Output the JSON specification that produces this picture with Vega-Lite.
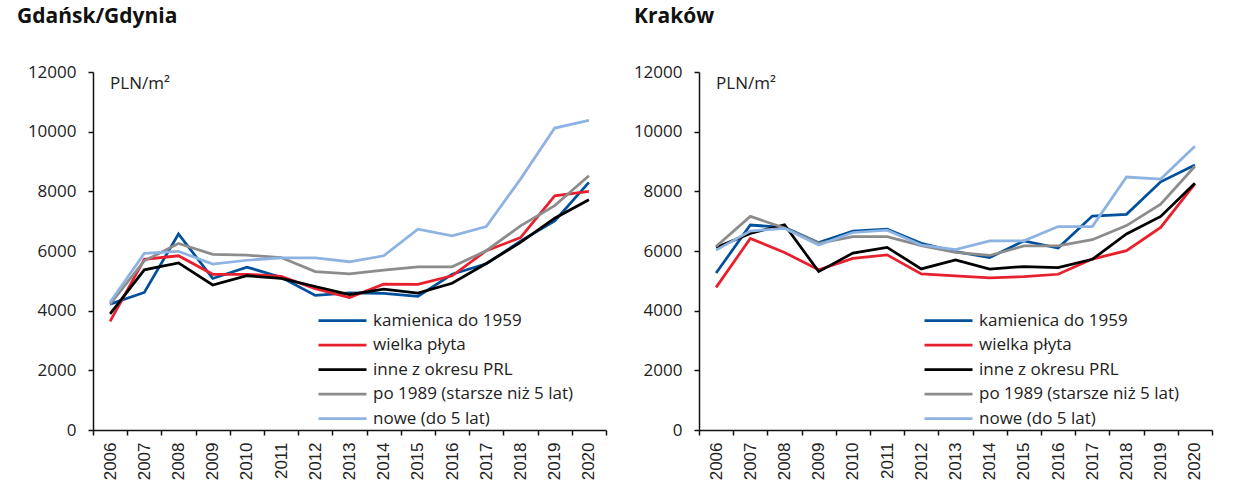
{
  "$schema": "https://vega.github.io/schema/vega-lite/v6.json",
  "background": "white",
  "padding": {"left": 17, "top": 6, "right": 5, "bottom": 5},
  "spacing": 26,
  "datasets": {
    "prices": [
      {"city":"Gdańsk/Gdynia","type":"kamienica do 1959","year":"2006","value":4220},
      {"city":"Gdańsk/Gdynia","type":"kamienica do 1959","year":"2007","value":4610},
      {"city":"Gdańsk/Gdynia","type":"kamienica do 1959","year":"2008","value":6570},
      {"city":"Gdańsk/Gdynia","type":"kamienica do 1959","year":"2009","value":5080},
      {"city":"Gdańsk/Gdynia","type":"kamienica do 1959","year":"2010","value":5460},
      {"city":"Gdańsk/Gdynia","type":"kamienica do 1959","year":"2011","value":5120},
      {"city":"Gdańsk/Gdynia","type":"kamienica do 1959","year":"2012","value":4510},
      {"city":"Gdańsk/Gdynia","type":"kamienica do 1959","year":"2013","value":4600},
      {"city":"Gdańsk/Gdynia","type":"kamienica do 1959","year":"2014","value":4580},
      {"city":"Gdańsk/Gdynia","type":"kamienica do 1959","year":"2015","value":4480},
      {"city":"Gdańsk/Gdynia","type":"kamienica do 1959","year":"2016","value":5220},
      {"city":"Gdańsk/Gdynia","type":"kamienica do 1959","year":"2017","value":5570},
      {"city":"Gdańsk/Gdynia","type":"kamienica do 1959","year":"2018","value":6330},
      {"city":"Gdańsk/Gdynia","type":"kamienica do 1959","year":"2019","value":7010},
      {"city":"Gdańsk/Gdynia","type":"kamienica do 1959","year":"2020","value":8300},
      {"city":"Gdańsk/Gdynia","type":"wielka płyta","year":"2006","value":3640},
      {"city":"Gdańsk/Gdynia","type":"wielka płyta","year":"2007","value":5720},
      {"city":"Gdańsk/Gdynia","type":"wielka płyta","year":"2008","value":5840},
      {"city":"Gdańsk/Gdynia","type":"wielka płyta","year":"2009","value":5220},
      {"city":"Gdańsk/Gdynia","type":"wielka płyta","year":"2010","value":5220},
      {"city":"Gdańsk/Gdynia","type":"wielka płyta","year":"2011","value":5150},
      {"city":"Gdańsk/Gdynia","type":"wielka płyta","year":"2012","value":4740},
      {"city":"Gdańsk/Gdynia","type":"wielka płyta","year":"2013","value":4440},
      {"city":"Gdańsk/Gdynia","type":"wielka płyta","year":"2014","value":4890},
      {"city":"Gdańsk/Gdynia","type":"wielka płyta","year":"2015","value":4880},
      {"city":"Gdańsk/Gdynia","type":"wielka płyta","year":"2016","value":5170},
      {"city":"Gdańsk/Gdynia","type":"wielka płyta","year":"2017","value":6010},
      {"city":"Gdańsk/Gdynia","type":"wielka płyta","year":"2018","value":6450},
      {"city":"Gdańsk/Gdynia","type":"wielka płyta","year":"2019","value":7850},
      {"city":"Gdańsk/Gdynia","type":"wielka płyta","year":"2020","value":8000},
      {"city":"Gdańsk/Gdynia","type":"inne z okresu PRL","year":"2006","value":3890},
      {"city":"Gdańsk/Gdynia","type":"inne z okresu PRL","year":"2007","value":5370},
      {"city":"Gdańsk/Gdynia","type":"inne z okresu PRL","year":"2008","value":5600},
      {"city":"Gdańsk/Gdynia","type":"inne z okresu PRL","year":"2009","value":4860},
      {"city":"Gdańsk/Gdynia","type":"inne z okresu PRL","year":"2010","value":5170},
      {"city":"Gdańsk/Gdynia","type":"inne z okresu PRL","year":"2011","value":5080},
      {"city":"Gdańsk/Gdynia","type":"inne z okresu PRL","year":"2012","value":4810},
      {"city":"Gdańsk/Gdynia","type":"inne z okresu PRL","year":"2013","value":4540},
      {"city":"Gdańsk/Gdynia","type":"inne z okresu PRL","year":"2014","value":4720},
      {"city":"Gdańsk/Gdynia","type":"inne z okresu PRL","year":"2015","value":4590},
      {"city":"Gdańsk/Gdynia","type":"inne z okresu PRL","year":"2016","value":4920},
      {"city":"Gdańsk/Gdynia","type":"inne z okresu PRL","year":"2017","value":5580},
      {"city":"Gdańsk/Gdynia","type":"inne z okresu PRL","year":"2018","value":6290},
      {"city":"Gdańsk/Gdynia","type":"inne z okresu PRL","year":"2019","value":7100},
      {"city":"Gdańsk/Gdynia","type":"inne z okresu PRL","year":"2020","value":7720},
      {"city":"Gdańsk/Gdynia","type":"po 1989 (starsze niż 5 lat)","year":"2006","value":4220},
      {"city":"Gdańsk/Gdynia","type":"po 1989 (starsze niż 5 lat)","year":"2007","value":5670},
      {"city":"Gdańsk/Gdynia","type":"po 1989 (starsze niż 5 lat)","year":"2008","value":6250},
      {"city":"Gdańsk/Gdynia","type":"po 1989 (starsze niż 5 lat)","year":"2009","value":5890},
      {"city":"Gdańsk/Gdynia","type":"po 1989 (starsze niż 5 lat)","year":"2010","value":5860},
      {"city":"Gdańsk/Gdynia","type":"po 1989 (starsze niż 5 lat)","year":"2011","value":5780},
      {"city":"Gdańsk/Gdynia","type":"po 1989 (starsze niż 5 lat)","year":"2012","value":5310},
      {"city":"Gdańsk/Gdynia","type":"po 1989 (starsze niż 5 lat)","year":"2013","value":5230},
      {"city":"Gdańsk/Gdynia","type":"po 1989 (starsze niż 5 lat)","year":"2014","value":5360},
      {"city":"Gdańsk/Gdynia","type":"po 1989 (starsze niż 5 lat)","year":"2015","value":5470},
      {"city":"Gdańsk/Gdynia","type":"po 1989 (starsze niż 5 lat)","year":"2016","value":5470},
      {"city":"Gdańsk/Gdynia","type":"po 1989 (starsze niż 5 lat)","year":"2017","value":6010},
      {"city":"Gdańsk/Gdynia","type":"po 1989 (starsze niż 5 lat)","year":"2018","value":6840},
      {"city":"Gdańsk/Gdynia","type":"po 1989 (starsze niż 5 lat)","year":"2019","value":7520},
      {"city":"Gdańsk/Gdynia","type":"po 1989 (starsze niż 5 lat)","year":"2020","value":8520},
      {"city":"Gdańsk/Gdynia","type":"nowe (do 5 lat)","year":"2006","value":4280},
      {"city":"Gdańsk/Gdynia","type":"nowe (do 5 lat)","year":"2007","value":5920},
      {"city":"Gdańsk/Gdynia","type":"nowe (do 5 lat)","year":"2008","value":5990},
      {"city":"Gdańsk/Gdynia","type":"nowe (do 5 lat)","year":"2009","value":5560},
      {"city":"Gdańsk/Gdynia","type":"nowe (do 5 lat)","year":"2010","value":5690},
      {"city":"Gdańsk/Gdynia","type":"nowe (do 5 lat)","year":"2011","value":5770},
      {"city":"Gdańsk/Gdynia","type":"nowe (do 5 lat)","year":"2012","value":5770},
      {"city":"Gdańsk/Gdynia","type":"nowe (do 5 lat)","year":"2013","value":5640},
      {"city":"Gdańsk/Gdynia","type":"nowe (do 5 lat)","year":"2014","value":5840},
      {"city":"Gdańsk/Gdynia","type":"nowe (do 5 lat)","year":"2015","value":6730},
      {"city":"Gdańsk/Gdynia","type":"nowe (do 5 lat)","year":"2016","value":6510},
      {"city":"Gdańsk/Gdynia","type":"nowe (do 5 lat)","year":"2017","value":6820},
      {"city":"Gdańsk/Gdynia","type":"nowe (do 5 lat)","year":"2018","value":8410},
      {"city":"Gdańsk/Gdynia","type":"nowe (do 5 lat)","year":"2019","value":10120},
      {"city":"Gdańsk/Gdynia","type":"nowe (do 5 lat)","year":"2020","value":10380},
      {"city":"Kraków","type":"kamienica do 1959","year":"2006","value":5260},
      {"city":"Kraków","type":"kamienica do 1959","year":"2007","value":6870},
      {"city":"Kraków","type":"kamienica do 1959","year":"2008","value":6790},
      {"city":"Kraków","type":"kamienica do 1959","year":"2009","value":6280},
      {"city":"Kraków","type":"kamienica do 1959","year":"2010","value":6670},
      {"city":"Kraków","type":"kamienica do 1959","year":"2011","value":6730},
      {"city":"Kraków","type":"kamienica do 1959","year":"2012","value":6260},
      {"city":"Kraków","type":"kamienica do 1959","year":"2013","value":5980},
      {"city":"Kraków","type":"kamienica do 1959","year":"2014","value":5780},
      {"city":"Kraków","type":"kamienica do 1959","year":"2015","value":6340},
      {"city":"Kraków","type":"kamienica do 1959","year":"2016","value":6100},
      {"city":"Kraków","type":"kamienica do 1959","year":"2017","value":7170},
      {"city":"Kraków","type":"kamienica do 1959","year":"2018","value":7230},
      {"city":"Kraków","type":"kamienica do 1959","year":"2019","value":8320},
      {"city":"Kraków","type":"kamienica do 1959","year":"2020","value":8880},
      {"city":"Kraków","type":"wielka płyta","year":"2006","value":4780},
      {"city":"Kraków","type":"wielka płyta","year":"2007","value":6420},
      {"city":"Kraków","type":"wielka płyta","year":"2008","value":5950},
      {"city":"Kraków","type":"wielka płyta","year":"2009","value":5370},
      {"city":"Kraków","type":"wielka płyta","year":"2010","value":5750},
      {"city":"Kraków","type":"wielka płyta","year":"2011","value":5870},
      {"city":"Kraków","type":"wielka płyta","year":"2012","value":5230},
      {"city":"Kraków","type":"wielka płyta","year":"2013","value":5170},
      {"city":"Kraków","type":"wielka płyta","year":"2014","value":5100},
      {"city":"Kraków","type":"wielka płyta","year":"2015","value":5140},
      {"city":"Kraków","type":"wielka płyta","year":"2016","value":5220},
      {"city":"Kraków","type":"wielka płyta","year":"2017","value":5730},
      {"city":"Kraków","type":"wielka płyta","year":"2018","value":6010},
      {"city":"Kraków","type":"wielka płyta","year":"2019","value":6790},
      {"city":"Kraków","type":"wielka płyta","year":"2020","value":8250},
      {"city":"Kraków","type":"inne z okresu PRL","year":"2006","value":6120},
      {"city":"Kraków","type":"inne z okresu PRL","year":"2007","value":6590},
      {"city":"Kraków","type":"inne z okresu PRL","year":"2008","value":6880},
      {"city":"Kraków","type":"inne z okresu PRL","year":"2009","value":5310},
      {"city":"Kraków","type":"inne z okresu PRL","year":"2010","value":5930},
      {"city":"Kraków","type":"inne z okresu PRL","year":"2011","value":6120},
      {"city":"Kraków","type":"inne z okresu PRL","year":"2012","value":5400},
      {"city":"Kraków","type":"inne z okresu PRL","year":"2013","value":5700},
      {"city":"Kraków","type":"inne z okresu PRL","year":"2014","value":5390},
      {"city":"Kraków","type":"inne z okresu PRL","year":"2015","value":5480},
      {"city":"Kraków","type":"inne z okresu PRL","year":"2016","value":5440},
      {"city":"Kraków","type":"inne z okresu PRL","year":"2017","value":5720},
      {"city":"Kraków","type":"inne z okresu PRL","year":"2018","value":6570},
      {"city":"Kraków","type":"inne z okresu PRL","year":"2019","value":7160},
      {"city":"Kraków","type":"inne z okresu PRL","year":"2020","value":8270},
      {"city":"Kraków","type":"po 1989 (starsze niż 5 lat)","year":"2006","value":6150},
      {"city":"Kraków","type":"po 1989 (starsze niż 5 lat)","year":"2007","value":7160},
      {"city":"Kraków","type":"po 1989 (starsze niż 5 lat)","year":"2008","value":6770},
      {"city":"Kraków","type":"po 1989 (starsze niż 5 lat)","year":"2009","value":6260},
      {"city":"Kraków","type":"po 1989 (starsze niż 5 lat)","year":"2010","value":6480},
      {"city":"Kraków","type":"po 1989 (starsze niż 5 lat)","year":"2011","value":6480},
      {"city":"Kraków","type":"po 1989 (starsze niż 5 lat)","year":"2012","value":6180},
      {"city":"Kraków","type":"po 1989 (starsze niż 5 lat)","year":"2013","value":5950},
      {"city":"Kraków","type":"po 1989 (starsze niż 5 lat)","year":"2014","value":5850},
      {"city":"Kraków","type":"po 1989 (starsze niż 5 lat)","year":"2015","value":6170},
      {"city":"Kraków","type":"po 1989 (starsze niż 5 lat)","year":"2016","value":6170},
      {"city":"Kraków","type":"po 1989 (starsze niż 5 lat)","year":"2017","value":6380},
      {"city":"Kraków","type":"po 1989 (starsze niż 5 lat)","year":"2018","value":6850},
      {"city":"Kraków","type":"po 1989 (starsze niż 5 lat)","year":"2019","value":7570},
      {"city":"Kraków","type":"po 1989 (starsze niż 5 lat)","year":"2020","value":8840},
      {"city":"Kraków","type":"nowe (do 5 lat)","year":"2006","value":6030},
      {"city":"Kraków","type":"nowe (do 5 lat)","year":"2007","value":6670},
      {"city":"Kraków","type":"nowe (do 5 lat)","year":"2008","value":6760},
      {"city":"Kraków","type":"nowe (do 5 lat)","year":"2009","value":6200},
      {"city":"Kraków","type":"nowe (do 5 lat)","year":"2010","value":6620},
      {"city":"Kraków","type":"nowe (do 5 lat)","year":"2011","value":6700},
      {"city":"Kraków","type":"nowe (do 5 lat)","year":"2012","value":6200},
      {"city":"Kraków","type":"nowe (do 5 lat)","year":"2013","value":6050},
      {"city":"Kraków","type":"nowe (do 5 lat)","year":"2014","value":6340},
      {"city":"Kraków","type":"nowe (do 5 lat)","year":"2015","value":6340},
      {"city":"Kraków","type":"nowe (do 5 lat)","year":"2016","value":6820},
      {"city":"Kraków","type":"nowe (do 5 lat)","year":"2017","value":6820},
      {"city":"Kraków","type":"nowe (do 5 lat)","year":"2018","value":8480},
      {"city":"Kraków","type":"nowe (do 5 lat)","year":"2019","value":8410},
      {"city":"Kraków","type":"nowe (do 5 lat)","year":"2020","value":9510}
    ],
    "unit": [{"label": "PLN/m²"}]
  },
  "resolve": {"legend": {"color": "independent"}},
  "hconcat": [
    {
      "title": {"text": "Gdańsk/Gdynia", "dx": -76},
      "width": 513,
      "height": 358,
      "layer": [
        {
          "data": {"name": "prices"},
          "transform": [{"filter": "datum.city === 'Gdańsk/Gdynia'"}],
          "mark": {"type": "line", "strokeWidth": 2.75},
          "encoding": {
            "x": {"field": "year", "type": "ordinal", "scale": {"type": "band", "paddingInner": 0, "paddingOuter": 0}},
            "y": {"field": "value", "type": "quantitative", "scale": {"domain": [0, 12000]}, "axis": {"values": [0, 2000, 4000, 6000, 8000, 10000, 12000]}},
            "color": {"field": "type", "type": "nominal", "sort": null, "scale": {"domain": ["kamienica do 1959", "wielka płyta", "inne z okresu PRL", "po 1989 (starsze niż 5 lat)", "nowe (do 5 lat)"], "range": ["#00509b", "#e8202e", "#000000", "#8c8c8c", "#8db3e2"]}}
          }
        },
        {
          "data": {"name": "unit"},
          "mark": {"type": "text", "align": "left", "baseline": "middle", "fontSize": 17, "font": "Open Sans", "color": "#222222"},
          "encoding": {
            "x": {"datum": "2006", "type": "ordinal"},
            "y": {"datum": 11600, "type": "quantitative"},
            "text": {"field": "label"}
          }
        }
      ]
    },
    {
      "title": {"text": "Kraków", "dx": -65},
      "width": 513,
      "height": 358,
      "layer": [
        {
          "data": {"name": "prices"},
          "transform": [{"filter": "datum.city === 'Kraków'"}],
          "mark": {"type": "line", "strokeWidth": 2.75},
          "encoding": {
            "x": {"field": "year", "type": "ordinal", "scale": {"type": "band", "paddingInner": 0, "paddingOuter": 0}},
            "y": {"field": "value", "type": "quantitative", "scale": {"domain": [0, 12000]}, "axis": {"values": [0, 2000, 4000, 6000, 8000, 10000, 12000]}},
            "color": {"field": "type", "type": "nominal", "sort": null, "scale": {"domain": ["kamienica do 1959", "wielka płyta", "inne z okresu PRL", "po 1989 (starsze niż 5 lat)", "nowe (do 5 lat)"], "range": ["#00509b", "#e8202e", "#000000", "#8c8c8c", "#8db3e2"]}}
          }
        },
        {
          "data": {"name": "unit"},
          "mark": {"type": "text", "align": "left", "baseline": "middle", "fontSize": 17, "font": "Open Sans", "color": "#222222"},
          "encoding": {
            "x": {"datum": "2006", "type": "ordinal"},
            "y": {"datum": 11600, "type": "quantitative"},
            "text": {"field": "label"}
          }
        }
      ]
    }
  ],
  "config": {
    "view": {"stroke": null},
    "title": {"anchor": "start", "frame": "group", "font": "Open Sans", "fontSize": 21, "fontWeight": "bold", "color": "#111111", "offset": 36},
    "line": {"strokeWidth": 2.75},
    "axisX": {
      "title": null, "labelAngle": -90, "labelFont": "Liberation Sans", "labelFontSize": 17, "labelColor": "#222222",
      "tickBand": "extent", "tickSize": 5, "tickColor": "#111111", "tickWidth": 1.5,
      "domainColor": "#111111", "domainWidth": 1.5, "labelPadding": 7, "grid": false
    },
    "axisY": {
      "title": null, "labelFont": "Open Sans", "labelFontSize": 17, "labelColor": "#222222",
      "tickSize": 5, "tickColor": "#111111", "tickWidth": 1.5,
      "domainColor": "#111111", "domainWidth": 1.5, "labelPadding": 12, "grid": false, "format": "d"
    },
    "legend": {
      "title": null, "orient": "none", "legendX": 224, "legendY": 239, "padding": 0,
      "symbolType": "M-1,0H5", "symbolSize": 256, "symbolStrokeWidth": 3, "symbolFillColor": "transparent", "labelOffset": 37,
      "labelFont": "Open Sans", "labelFontSize": 17, "labelColor": "#222222", "labelLimit": 400, "rowPadding": 6.5
    }
  }
}
